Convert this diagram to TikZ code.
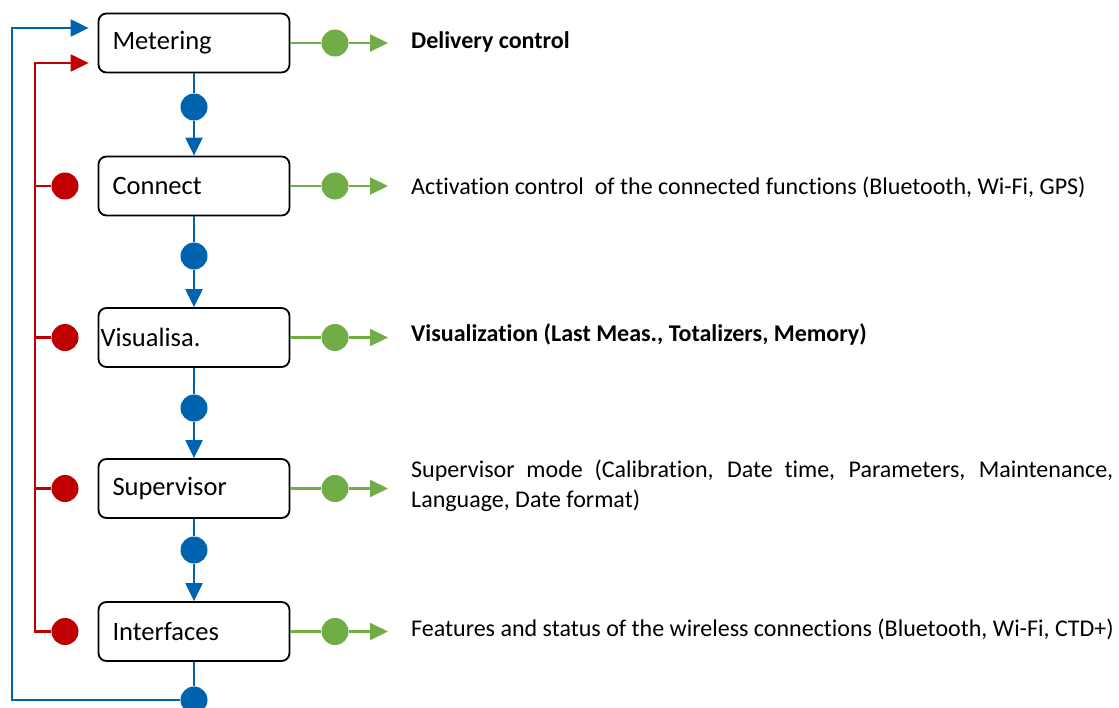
\documentclass[tikz,border=0pt]{standalone}
\usepackage{fontspec}
\setmainfont{Carlito}[Ligatures=NoCommon]
\usetikzlibrary{arrows.meta,positioning}

\definecolor{dblue}{RGB}{0,99,176}
\definecolor{dred}{RGB}{192,0,0}
\definecolor{dgreen}{RGB}{112,173,71}

\begin{document}
\begin{tikzpicture}[x=1pt,y=-1pt,
		box/.style={draw,line width=1.8pt,rounded corners=8pt,minimum width=191pt,minimum height=59pt,
			inner xsep=14pt,text width=163pt,align=left,font=\fontsize{26.5}{30}\selectfont},
		dot/.style={circle,inner sep=0pt,minimum size=27pt},
		info/.style={anchor=west,inner sep=0pt,font=\fontsize{24}{30}\selectfont},
		tip/.style={-{Triangle[length=18pt,width=17pt]}},
		blueline/.style={draw=dblue,line width=2.2pt},
		redline/.style={draw=dred,line width=2.2pt},
		greenline/.style={draw=dgreen,line width=2.2pt}]
	\useasboundingbox (0,0) rectangle (1119,707);
	
	% Kaesten
	\node[box] (metering) at (194,43) {Metering};
	\node[box] (connect) at (194,186) {Connect};
	\node[box,inner xsep=2pt,text width=187pt] (visual) at (194,337.5) {Visualisa.};
	\node[box] (supervisor) at (194,488.5) {Supervisor};
	\node[box] (interfaces) at (194,631.5) {Interfaces};
	
	% Beschreibungen rechts
	\node[info] (t1) at (411,42) {\textbf{Delivery control}};
	\node[info] (t2) at (411,187) {Activation control\ \ of the connected functions (Bluetooth, Wi-Fi, GPS)};
	\node[info] (t3) at (411,334) {\textbf{Visualization (Last Meas., Totalizers, Memory)}};
	\node[info,text width=702pt,align=justify] (t4) at (411,486) {Supervisor mode (Calibration, Date time, Parameters, Maintenance,\linebreak Language, Date format)};
	\node[info] (t5) at (411,629) {Features and status of the wireless connections (Bluetooth, Wi-Fi, CTD+)};
	
	% Punkte blau
	\node[dot,fill=dblue] (b1) at (194,107) {};
	\node[dot,fill=dblue] (b2) at (194,256) {};
	\node[dot,fill=dblue] (b3) at (194,408) {};
	\node[dot,fill=dblue] (b4) at (194,550) {};
	\node[dot,fill=dblue] (b5) at (194,700) {};
	
	% Punkte gruen
	\node[dot,fill=dgreen] (g1) at (335,43) {};
	\node[dot,fill=dgreen] (g2) at (335,186) {};
	\node[dot,fill=dgreen] (g3) at (335,337.5) {};
	\node[dot,fill=dgreen] (g4) at (335,488.5) {};
	\node[dot,fill=dgreen] (g5) at (335,631.5) {};
	
	% Punkte rot
	\node[dot,fill=dred] (r1) at (65,186) {};
	\node[dot,fill=dred] (r2) at (65,337.5) {};
	\node[dot,fill=dred] (r3) at (65,488.5) {};
	\node[dot,fill=dred] (r4) at (65,631.5) {};
	
	% Eckpunkte der Rueckfuehrungen
	\coordinate (bluetop) at (12,28);
	\coordinate (redtop) at (35,63);
	
	% blaue Kette nach unten
	\draw[blueline] (metering) -- (b1);
	\draw[blueline,tip] (b1) -- (connect);
	\draw[blueline] (connect) -- (b2);
	\draw[blueline,tip] (b2) -- (visual);
	\draw[blueline] (visual) -- (b3);
	\draw[blueline,tip] (b3) -- (supervisor);
	\draw[blueline] (supervisor) -- (b4);
	\draw[blueline,tip] (b4) -- (interfaces);
	\draw[blueline] (interfaces) -- (b5);
	\draw[blueline,tip,shorten >=9pt] (b5) -| (bluetop) -- (bluetop -| metering.west);
	
	% rote Rueckfuehrung
	\draw[redline,tip,shorten >=9pt] (r4) -| (redtop) -- (redtop -| metering.west);
	\draw[redline] (r1) -- (r1 -| redtop);
	\draw[redline] (r2) -- (r2 -| redtop);
	\draw[redline] (r3) -- (r3 -| redtop);
	
	% gruene Ausgaenge
	\draw[greenline] (metering) -- (g1);
	\draw[greenline,tip,shorten >=23pt] (g1) -- (g1 -| t1.west);
	\draw[greenline] (connect) -- (g2);
	\draw[greenline,tip,shorten >=23pt] (g2) -- (g2 -| t2.west);
	\draw[greenline] (visual) -- (g3);
	\draw[greenline,tip,shorten >=23pt] (g3) -- (g3 -| t3.west);
	\draw[greenline] (supervisor) -- (g4);
	\draw[greenline,tip,shorten >=23pt] (g4) -- (g4 -| t4.west);
	\draw[greenline] (interfaces) -- (g5);
	\draw[greenline,tip,shorten >=23pt] (g5) -- (g5 -| t5.west);
\end{tikzpicture}
\end{document}
